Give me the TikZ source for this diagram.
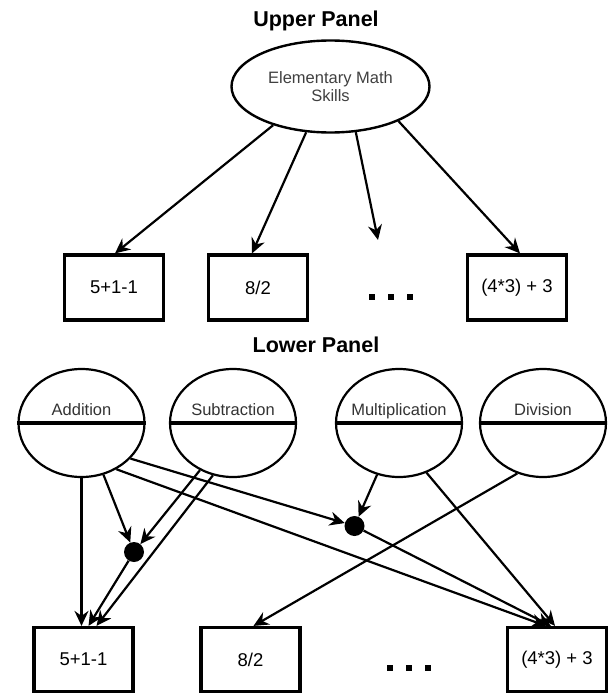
\documentclass[tikz,border=0pt]{standalone}
\usepackage{fontspec}
\setmainfont{Liberation Sans}
\usetikzlibrary{arrows.meta,shapes.geometric,calc}
\begin{document}
\begin{tikzpicture}[x=1pt,y=-1pt,
  arr/.style={line width=2.2pt, -{Stealth[length=15pt,width=14pt,inset=5pt]}},
  box/.style={draw, line width=3.2pt, minimum width=99pt, minimum height=65pt, inner sep=0pt, font=\fontsize{18.5}{20}\selectfont},
  topell/.style={ellipse, draw, line width=2.4pt, minimum width=198pt, minimum height=92pt, inner sep=0pt, align=center, text=black!75, font=\fontsize{16.5}{18.5}\selectfont},
  opell/.style={ellipse, draw, line width=2.2pt, minimum width=126pt, minimum height=108pt, inner sep=0pt},
  oplab/.style={anchor=base, inner sep=0pt, text=black!80, font=\fontsize{16.5}{18}\selectfont},
  paneltitle/.style={anchor=base, inner sep=0pt, font=\bfseries\fontsize{21.5}{24}\selectfont},
  dotn/.style={circle, fill=black, minimum size=20pt, inner sep=0pt},
  sq/.style={fill=black, minimum size=6pt, inner sep=0pt}
]
\useasboundingbox (0,0) rectangle (608,693);

% ---------- Upper panel ----------
\node[paneltitle] (tu) at (316,27) {Upper Panel};
\node[topell] (E) at (330.5,86.5) {Elementary Math\\Skills};

\node[box] (ub1) at (114,287.5) {5+1-1};
\node[box] (ub2) at (258,287.5) {8/2};
\node[box] (ub3) at (517,287.5) {(4*3) + 3};
\node[sq] (ud1) at (372,297) {};
\node[sq] (ud2) at (391,297) {};
\node[sq] (ud3) at (410,297) {};
\coordinate (free) at (378,240);

\draw[arr] (E.-146) -- ($(ub1.north)+(1,0)$);
\draw[arr] (E.-118) -- ($(ub2.north)+(-6,0)$);
\draw[arr] (E.-61) -- (free);
\draw[arr] (E.-27) -- ($(ub3.north)+(3,0)$);

% ---------- Lower panel ----------
\node[paneltitle] (tl) at (316,352) {Lower Panel};

\node[opell] (add) at (81.5,423) {};
\node[opell] (sub) at (233,423) {};
\node[opell] (mul) at (399,423) {};
\node[opell] (div) at (543,423) {};
\foreach \n in {add,sub,mul,div}{
  \draw[line width=3.2pt] (\n.west) -- (\n.east);
}
\node[oplab] (addl) at (81.5,415) {Addition};
\node[oplab] (subl) at (233,415) {Subtraction};
\node[oplab] (mull) at (399,415) {Multiplication};
\node[oplab] (divl) at (543,415) {Division};

\node[dotn] (d1) at (134,552) {};
\node[dotn] (d2) at (354.5,526) {};

\node[box, minimum height=64pt] (lb1) at (83.5,659.5) {5+1-1};
\node[box, minimum height=64pt] (lb2) at (250.5,659.5) {8/2};
\node[box, minimum height=64pt] (lb3) at (557,659.5) {(4*3) + 3};
\node[sq] (ld1) at (390,668) {};
\node[sq] (ld2) at (409,668) {};
\node[sq] (ld3) at (428,668) {};

\draw[arr] (add.-90) -- ($(lb1.north)+(-2,0)$);
\draw[arr] (add.-67) -- (d1);
\draw[arr] (sub.-125) -- (d1);
\draw[arr] (sub.-111) -- ($(lb1.north)+(13,0)$);
\draw[arr] (d1) -- ($(lb1.north)+(5,0)$);
\draw[arr] (add.-36) -- (d2);
\draw[arr] (add.-53) -- ($(lb3.north)+(-11,0)$);
\draw[arr] (mul.-113) -- (d2);
\draw[arr] (d2) -- ($(lb3.north)+(-6,0)$);
\draw[arr] (mul.-61) -- ($(lb3.north)+(-2,0)$);
\draw[arr] (div.-117) -- ($(lb2.north)+(3,0)$);
\end{tikzpicture}
\end{document}
